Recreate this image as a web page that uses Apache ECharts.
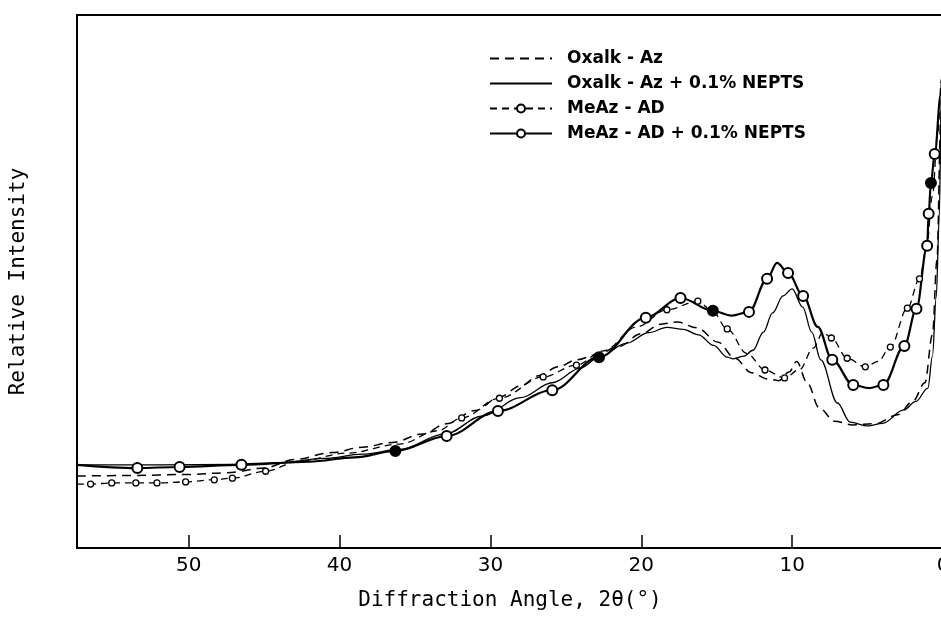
<!DOCTYPE html>
<html>
<head>
<meta charset="utf-8">
<title>Diffraction</title>
<script src="https://cdn.jsdelivr.net/npm/echarts@6/dist/echarts.min.js"></script>
<style>
  html, body { margin: 0; padding: 0; background: #fff; }
  #chart { width: 941px; height: 636px; }
</style>
</head>
<body>
<div id="chart"></div>
<script>
// angles (2theta, degrees) and relative intensity
const xTicks = [0, 10, 20, 30, 40, 50];

const oxalkAzX = [57.4, 54, 50, 47.5, 45, 43, 40.5, 38.5, 36.5, 34.5, 32.9, 31, 29.4, 28, 26.8, 25.5, 24.3, 23, 21.5, 20, 18.7, 17.6, 16.3, 14.9, 13.8, 12.7, 11.6, 10.9, 10.2, 9.7, 9.0, 8.2, 7.2, 6.0, 4.5, 3.0, 2.0, 1.2, 0.7, 0.4, 0.15, 0];
const oxalkAzY = [13.5, 13.6, 13.8, 14.1, 15.0, 16.6, 17.9, 18.9, 19.8, 21.4, 23.3, 25.8, 28.3, 30.4, 32.3, 34.0, 35.3, 36.2, 37.8, 40.2, 42.0, 42.4, 41.3, 38.6, 35.6, 32.9, 31.7, 31.4, 33.0, 35.0, 31.0, 26.3, 23.8, 23.1, 23.3, 25.0, 27.5, 31.0, 40.0, 54.0, 80.0, 95];

const oxalkNeptsX = [57.4, 52, 47, 44, 41, 38.5, 36, 33, 30.5, 28, 25.9, 24, 22.8, 21, 19.5, 18.3, 17.2, 16.2, 15.2, 14.3, 13.9, 13.2, 12.6, 11.9, 11.3, 10.6, 10.0, 9.3, 8.7, 8.1, 7.0, 6.15, 5.0, 4.0, 2.6, 1.8, 1.0, 0.7, 0.45, 0.25, 0.1, 0];
const oxalkNeptsY = [15.6, 15.6, 15.7, 16.0, 16.8, 17.6, 18.5, 21.4, 24.8, 28.2, 31.0, 33.8, 35.8, 38.4, 40.4, 41.4, 41.0, 40.0, 38.0, 35.8, 35.5, 36.0, 37.1, 40.5, 44.1, 47.3, 48.6, 45.2, 40.5, 35.3, 27.2, 23.6, 22.9, 23.4, 25.9, 27.5, 30.0, 36.0, 47.0, 62.0, 86, 98];

const meAzAdX = [57.4, 56.5, 55.1, 53.5, 52.1, 50.2, 48.3, 47.1, 44.9, 42.7, 39.5, 36.0, 33.5, 31.9, 29.4, 26.5, 24.3, 22.5, 20.3, 18.3, 16.25, 15.3, 14.3, 13.0, 11.8, 10.5, 9.5, 8.6, 7.94, 7.4, 6.35, 5.15, 4.3, 3.49, 2.36, 1.56, 1.1, 0.7, 0.35, 0.1, 0];
const meAzAdY = [12.0, 12.0, 12.2, 12.2, 12.2, 12.4, 12.8, 13.1, 14.4, 16.3, 17.8, 19.5, 22.0, 24.4, 28.1, 32.1, 34.3, 37.0, 41.5, 44.7, 46.3, 44.5, 41.1, 36.5, 33.4, 31.9, 33.5, 37.5, 40.5, 39.4, 35.6, 34.0, 35.0, 37.7, 45.0, 50.5, 56, 66, 78, 88, 95];
const meAzAdMarked = [56.5, 55.1, 53.5, 52.1, 50.2, 48.3, 47.1, 44.9, 31.9, 29.4, 26.5, 24.3, 18.3, 16.25, 14.3, 11.8, 10.5, 7.4, 6.35, 5.15, 3.49, 2.36, 1.56];

const meAzNeptsX = [57.4, 53.4, 50.6, 46.5, 42, 39, 36.3, 32.9, 29.5, 25.9, 22.8, 19.7, 17.4, 15.25, 14.0, 12.86, 11.66, 11.0, 10.27, 9.27, 8.3, 7.34, 5.95, 4.9, 3.95, 2.56, 1.76, 1.05, 0.95, 0.8, 0.55, 0.15, 0];
const meAzNeptsY = [15.6, 15.0, 15.2, 15.6, 16.2, 17.0, 18.2, 21.0, 25.7, 29.6, 35.8, 43.2, 46.9, 44.5, 43.6, 44.3, 50.5, 53.5, 51.6, 47.3, 41.5, 35.3, 30.6, 30.0, 30.6, 37.9, 44.9, 56.7, 62.7, 68.5, 73.9, 85, 92];
const meAzNeptsMarked = [53.4, 50.6, 46.5, 36.3, 32.9, 29.5, 25.9, 22.8, 19.7, 17.4, 15.25, 12.86, 11.66, 10.27, 9.27, 7.34, 5.95, 3.95, 2.56, 1.76, 1.05, 0.95, 0.8, 0.55];
const meAzNeptsFilled = [36.3, 22.8, 15.25, 0.8];

const seriesNames = ['Oxalk - Az', 'Oxalk - Az + 0.1% NEPTS', 'MeAz - AD', 'MeAz - AD + 0.1% NEPTS'];

const pairs = (xs, ys) => xs.map((x, i) => [x, ys[i]]);

const marked = (xs, ys, marks, filled = []) =>
  xs.map((x, i) => {
    const item = { value: [x, ys[i]] };
    if (!marks.includes(x)) item.symbol = 'none';
    if (filled.includes(x)) item.itemStyle = { color: '#000' };
    return item;
  });

const chart = echarts.init(document.getElementById('chart'));

const axisFont = 'DejaVu Sans Mono';

chart.setOption({
  animation: false,
  backgroundColor: '#fff',
  grid: {
    left: 77,
    right: -2,
    top: 15,
    bottom: 88,
    outerBoundsMode: 'none',
    containLabel: false,
    show: true,
    borderColor: '#000',
    borderWidth: 2
  },
  legend: {
    orient: 'vertical',
    left: 484,
    top: 45,
    itemWidth: 62,
    itemHeight: 10,
    itemGap: 8,
    data: [
      // plain lines carry no marker in the key
      { name: seriesNames[0], itemStyle: { opacity: 0 } },
      { name: seriesNames[1], itemStyle: { opacity: 0 } },
      seriesNames[2],
      seriesNames[3]
    ],
    textStyle: {
      color: '#000',
      fontFamily: 'DejaVu Sans',
      fontWeight: 'bold',
      fontSize: 17,
      lineHeight: 16,
      padding: [0, 0, 0, 10]
    }
  },
  xAxis: {
    type: 'value',
    inverse: true,
    min: 0,
    max: 57.4,
    interval: 10,
    name: 'Diffraction Angle, 2θ(°)',
    nameLocation: 'middle',
    nameGap: 42,
    nameTextStyle: { color: '#000', fontFamily: axisFont, fontSize: 21 },
    axisLine: { lineStyle: { color: '#000', width: 2 } },
    axisTick: { inside: true, length: 13, lineStyle: { color: '#000', width: 1.5 } },
    axisLabel: {
      color: '#000',
      fontFamily: 'DejaVu Sans',
      fontSize: 20,
      margin: 8,
      formatter: (v) => (xTicks.includes(v) ? String(v) : '')
    },
    splitLine: { show: false }
  },
  yAxis: {
    type: 'value',
    min: 0,
    max: 100,
    name: 'Relative Intensity',
    nameLocation: 'middle',
    nameGap: 48,
    nameTextStyle: { color: '#000', fontFamily: axisFont, fontSize: 21 },
    axisLine: { show: true, lineStyle: { color: '#000', width: 2 } },
    axisTick: { show: false },
    axisLabel: { show: false },
    splitLine: { show: false }
  },
  series: [
    {
      name: seriesNames[0],
      type: 'line',
      smooth: 0.35,
      smoothMonotone: 'x',
      symbol: 'none',
      data: pairs(oxalkAzX, oxalkAzY),
      lineStyle: { color: '#000', width: 1.5, type: [9, 6] },
      itemStyle: { color: '#000' }
    },
    {
      name: seriesNames[1],
      type: 'line',
      smooth: 0.35,
      smoothMonotone: 'x',
      symbol: 'none',
      data: pairs(oxalkNeptsX, oxalkNeptsY),
      lineStyle: { color: '#000', width: 1.3 },
      itemStyle: { color: '#000' }
    },
    {
      name: seriesNames[2],
      type: 'line',
      smooth: 0.35,
      smoothMonotone: 'x',
      symbol: 'circle',
      symbolSize: 6,
      data: marked(meAzAdX, meAzAdY, meAzAdMarked),
      lineStyle: { color: '#000', width: 1.3, type: [7, 5] },
      itemStyle: { color: '#fff', borderColor: '#000', borderWidth: 1.3 }
    },
    {
      name: seriesNames[3],
      type: 'line',
      smooth: 0.35,
      smoothMonotone: 'x',
      symbol: 'circle',
      symbolSize: 10,
      data: marked(meAzNeptsX, meAzNeptsY, meAzNeptsMarked, meAzNeptsFilled),
      lineStyle: { color: '#000', width: 2.2 },
      itemStyle: { color: '#fff', borderColor: '#000', borderWidth: 2 }
    }
  ]
});
</script>
</body>
</html>
